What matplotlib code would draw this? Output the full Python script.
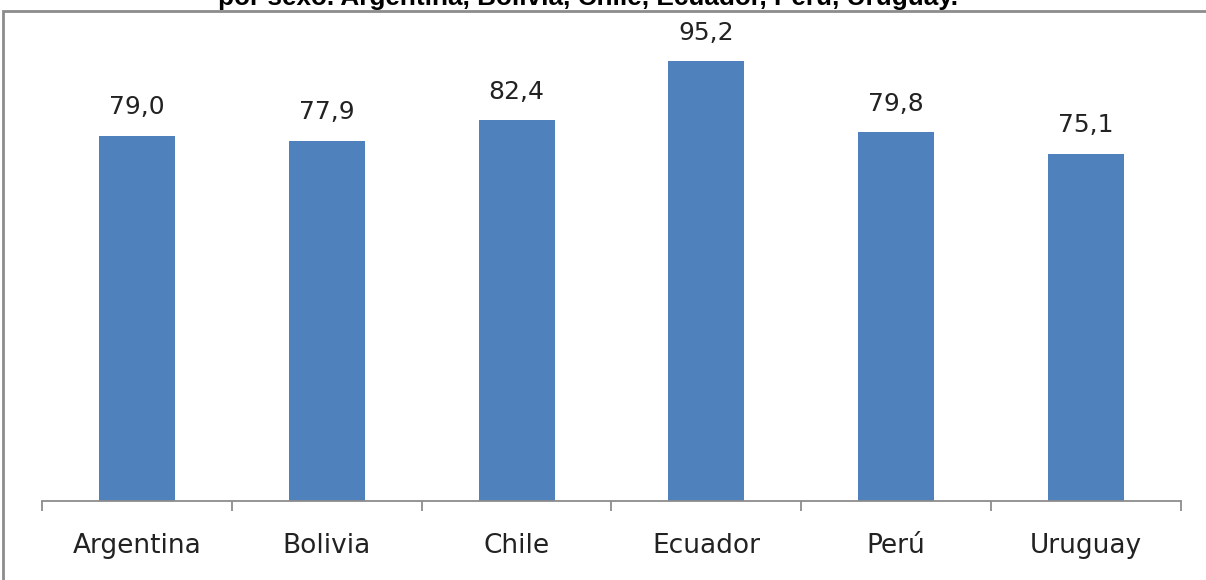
import matplotlib
matplotlib.use("Agg")
import matplotlib.pyplot as plt
from matplotlib.patches import Rectangle
import numpy as np

paises = ["Argentina", "Bolivia", "Chile", "Ecuador", "Perú", "Uruguay"]
valores = [79.0, 77.9, 82.4, 95.2, 79.8, 75.1]
etiquetas = ["79,0", "77,9", "82,4", "95,2", "79,8", "75,1"]
titulo = "por sexo. Argentina, Bolivia, Chile, Ecuador, Perú, Uruguay."

W, H = 1206, 580
fig = plt.figure(figsize=(W / 100, H / 100), dpi=100)

# outer chart border (gray frame, cut at right and bottom)
fig.patches.append(Rectangle((3.5 / W, -0.1), 1.2, 1 - 11 / H + 0.1,
                             transform=fig.transFigure, fill=False,
                             edgecolor="#8c8c8c", lw=2))

ax = fig.add_axes((42 / W, 79 / H, (1181 - 42) / W, (501 - 39) / H))
x = np.arange(len(paises))
ax.bar(x, valores, width=0.4, color="#4F81BD")
ax.set_xlim(-0.5, len(paises) - 0.5)
ax.set_ylim(0, 100)

for xi, v, t in zip(x, valores, etiquetas):
    ax.annotate(t, (xi, v), xytext=(0, 12), textcoords="offset points",
                ha="center", va="bottom", fontsize=18, family="DejaVu Sans",
                color="#222222")

for s in ["top", "right", "left"]:
    ax.spines[s].set_visible(False)
ax.spines["bottom"].set_color("#8c8c8c")
ax.spines["bottom"].set_linewidth(1.3)
ax.set_yticks([])
ax.set_xticks(np.arange(-0.5, len(paises), 1))
ax.set_xticklabels([])
ax.set_xticks(x, minor=True)
ax.set_xticklabels(paises, minor=True, fontsize=19, family="DejaVu Sans",
                   color="#222222")
ax.tick_params(axis="x", which="major", length=7, width=1.3, color="#8c8c8c",
               direction="out")
ax.tick_params(axis="x", which="minor", length=0, pad=23)

fig.text(588 / W, 1 - 5 / H, titulo, ha="center", va="baseline",
         fontsize=18.8, fontweight="bold", family="Liberation Sans")

fig.savefig("out.png", dpi=100)
